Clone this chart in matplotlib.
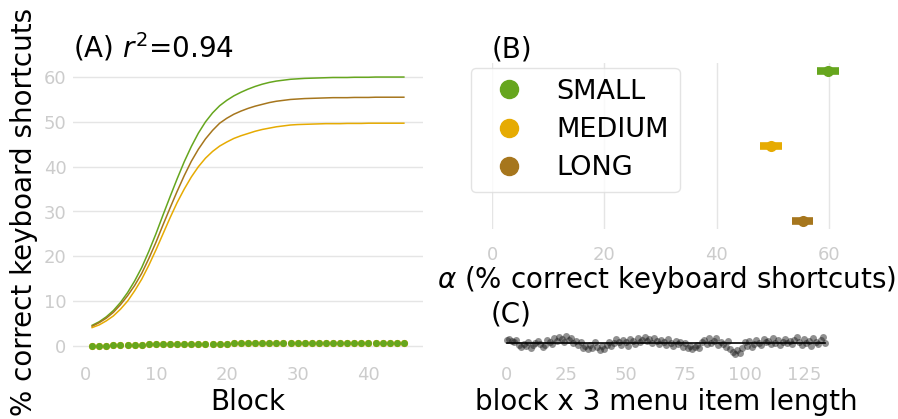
import matplotlib
matplotlib.use('Agg')
import matplotlib.pyplot as plt
from matplotlib.lines import Line2D

# colours (Dark2)
c_small = '#66a61e'
c_medium = '#e6ab02'
c_long = '#a6761d'
tick_col = '#cccccc'
grid_col = '#e5e5e5'

# (A) fitted curves per block
blocks = list(range(1, 46))
fit_small = [4.6, 5.4, 6.5, 7.9, 9.7, 11.9, 14.5, 17.5, 21.1, 25.0,
             29.2, 33.3, 37.3, 41.1, 44.5, 47.5, 50.0, 52.0, 53.6, 54.8,
             55.8, 56.6, 57.3, 57.9, 58.4, 58.8, 59.1, 59.3, 59.5, 59.6,
             59.7, 59.75, 59.8, 59.85, 59.9, 59.9, 59.9, 59.95, 59.95, 59.95,
             60.0, 60.0, 60.0, 60.0, 60.0]
fit_long = [4.4, 5.2, 6.2, 7.5, 9.2, 11.2, 13.5, 16.2, 19.5, 23.1,
            27.0, 30.8, 34.5, 38.0, 41.2, 43.9, 46.2, 48.1, 49.7, 50.8,
            51.7, 52.4, 53.0, 53.5, 53.9, 54.3, 54.6, 54.8, 55.0, 55.1,
            55.2, 55.25, 55.3, 55.35, 55.4, 55.4, 55.4, 55.45, 55.45, 55.45,
            55.5, 55.5, 55.5, 55.5, 55.5]
fit_medium = [4.1, 4.7, 5.6, 6.7, 8.2, 10.0, 12.3, 14.9, 18.0, 21.4,
              25.0, 28.6, 32.0, 35.0, 37.7, 40.0, 41.9, 43.4, 44.6, 45.5,
              46.3, 46.9, 47.4, 47.9, 48.3, 48.6, 48.9, 49.1, 49.3, 49.4,
              49.45, 49.5, 49.55, 49.6, 49.6, 49.6, 49.65, 49.65, 49.65, 49.7,
              49.7, 49.7, 49.7, 49.7, 49.7]
obs = [0.0, 0.05, 0.1, 0.15, 0.2, 0.25, 0.3, 0.32, 0.35, 0.37,
       0.4, 0.42, 0.44, 0.46, 0.48, 0.5, 0.51, 0.52, 0.53, 0.54,
       0.55, 0.56, 0.56, 0.57, 0.57, 0.58, 0.58, 0.58, 0.59, 0.59,
       0.59, 0.6, 0.6, 0.6, 0.6, 0.61, 0.61, 0.61, 0.61, 0.62,
       0.62, 0.62, 0.62, 0.62, 0.62]

# (B) alpha estimates with intervals
groups = ['SMALL', 'MEDIUM', 'LONG']
alpha_est = [59.8, 49.7, 55.3]
alpha_lo = [57.9, 47.7, 53.4]
alpha_hi = [61.8, 51.6, 57.2]

# (C) residuals over block x menu item length
resid = [1.5, 2.0, 1.0, 0.5, 1.5, -1.0, -2.0, -0.5, -1.5, 0.5,
         -2.5, -1.0, 0.0, 1.0, -0.5, -2.0, -1.0, 1.5, 0.5, -0.5,
         2.5, 1.0, 3.0, 2.0, 0.5, 3.5, 1.5, 2.5, 0.0, 1.0,
         -1.0, 0.5, -2.5, -1.5, -3.0, -1.0, -2.5, 0.5, -2.0, -3.5,
         -1.5, -3.0, -1.0, 0.5, -1.5, 0.0, 2.0, 0.5, -1.0, 1.5,
         0.5, -1.5, 2.0, 1.0, -0.5, 2.5, 0.5, 1.5, 3.0, 1.0,
         2.0, 0.0, 2.5, 1.0, -0.5, 1.5, 0.5, -1.0, 2.0, 0.0,
         -1.5, 1.0, -0.5, 0.5, -2.0, 0.0, -2.5, -1.5, -3.0, -2.0,
         -1.0, -2.5, 0.5, 1.5, -0.5, 2.5, 0.0, 1.0, 2.5, -1.0,
         0.5, -0.5, -2.0, 1.0, -3.0, -4.5, -6.0, -3.5, -5.0, -2.5,
         0.5, -1.5, 1.0, -2.0, -0.5, 1.5, 0.0, -1.0, 2.0, 0.5,
         1.0, -0.5, 2.5, 0.0, 1.5, -1.0, 0.5, 2.0, 0.0, 1.0,
         -0.5, 1.5, 3.0, 0.5, -1.0, 2.0, 0.0, 1.0, -1.5, 2.5,
         0.5, -0.5, 1.5, 3.0, 0.0]
resid_x = list(range(len(resid)))

W, H = 898, 419
fig = plt.figure(figsize=(W / 100, H / 100), dpi=100)


def px_axes(left, top, right, bottom):
    return fig.add_axes([left / W, 1 - bottom / H, (right - left) / W, (bottom - top) / H])


def clean(ax, size, pad=4.6):
    for s in ax.spines.values():
        s.set_visible(False)
    ax.tick_params(length=0, pad=pad, labelsize=size, labelcolor=tick_col)


# ---- (A)
axA = px_axes(73, 63.6, 423, 359.4)
clean(axA, 13)
axA.grid(axis='y', color=grid_col, lw=1)
axA.set_axisbelow(True)
axA.plot(blocks, fit_small, color=c_small, lw=1.1)
axA.plot(blocks, fit_long, color=c_long, lw=1.1)
axA.plot(blocks, fit_medium, color=c_medium, lw=1.1)
axA.plot(blocks, obs, 'o', color=c_medium, ms=5.2, mew=0)
axA.plot(blocks, obs, 'o', color=c_small, ms=5, mew=0)
axA.set_xlim(-1.7, 47.7)
axA.set_ylim(-3, 63)
axA.set_xticks([0, 10, 20, 30, 40])
axA.set_yticks([0, 10, 20, 30, 40, 50, 60])
axA.set_xlabel('Block', fontsize=20, labelpad=3)
axA.set_ylabel('% correct keyboard shortcuts', fontsize=20, labelpad=4)
axA.set_title('(A) $r^2$=0.94', loc='left', fontsize=20, pad=4)

# ---- (B)
axB = px_axes(492, 63, 841, 229)
clean(axB, 13, pad=12)
axB.grid(axis='x', color=grid_col, lw=1)
axB.set_axisbelow(True)
cols = [c_small, c_medium, c_long]
for i, g in enumerate(groups):
    axB.plot([alpha_lo[i], alpha_hi[i]], [i, i], color=cols[i], lw=5.5, solid_capstyle='butt')
    axB.plot([alpha_est[i]], [i], 'o', color=cols[i], ms=8, mew=0)
axB.set_xlim(0, 62.1)
axB.set_ylim(2.1, -0.1)
axB.set_yticks([])
axB.set_xticks([0, 20, 40, 60])
axB.set_xlabel(r'$\alpha$ (% correct keyboard shortcuts)', fontsize=20, labelpad=0.5)
axB.set_title('(B)', loc='left', fontsize=20, pad=4)
handles = [Line2D([], [], marker='o', ls='', color=c, ms=13) for c in cols]
leg = axB.legend(handles, groups, loc='upper left', bbox_to_anchor=(-0.06, 0.97),
                 borderaxespad=0, fontsize=19.5, handletextpad=0.75, labelspacing=0.45,
                 handlelength=2.0, frameon=True, fancybox=True, edgecolor='#dddddd')
leg.get_frame().set_linewidth(1)

# ---- (C)
axC = px_axes(491, 328, 841, 359.4)
clean(axC, 13)
axC.plot(resid_x, resid, 'o', color='#222222', alpha=0.5, ms=5, mew=0, clip_on=False)
axC.axhline(0, xmin=(0 + 6.7) / 147.3, xmax=(134 + 6.7) / 147.3, color='black', lw=1.2)
axC.set_xlim(-6.7, 140.6)
axC.set_ylim(-8.5, 7.5)
axC.set_yticks([])
axC.set_xticks([0, 25, 50, 75, 100, 125])
axC.set_xlabel('block x 3 menu item length', fontsize=20, labelpad=3)
axC.set_title('(C)', loc='left', fontsize=20, pad=4)

fig.savefig('out.png', dpi=100)
